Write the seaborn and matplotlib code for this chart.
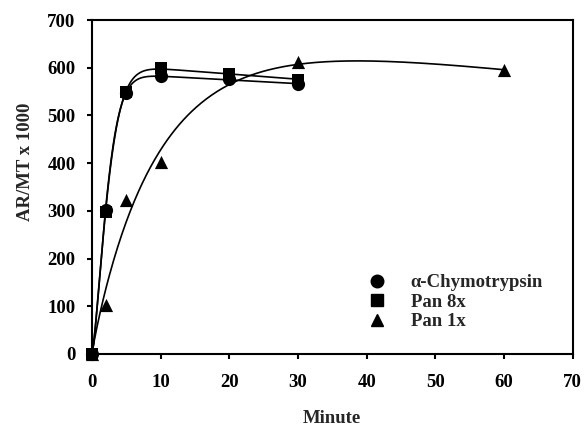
import numpy as np
import pandas as pd
import matplotlib
matplotlib.use("Agg")
import matplotlib.pyplot as plt
import seaborn as sns
from matplotlib.lines import Line2D

# ---- data ----
chymo_x = [0, 2, 5, 10, 20, 30]
chymo_y = [0, 302, 548, 582, 576, 566]
pan8_x = [0, 2, 5, 10, 20, 30]
pan8_y = [0, 298, 550, 600, 588, 575]
pan1_x = [0, 2, 5, 10, 30, 60]
pan1_y = [0, 103, 322, 403, 612, 595]
labels = ["\u03b1-Chymotrypsin", "Pan 8x", "Pan 1x"]
xticks = [0, 10, 20, 30, 40, 50, 60, 70]
yticks = [0, 100, 200, 300, 400, 500, 600, 700]

sns.set_style("ticks")
plt.rcParams['font.family'] = ['Liberation Serif', 'DejaVu Serif']
plt.rcParams['font.weight'] = 'bold'

FS = 13.5


def fit_curve(x, y):
    """Least-squares trend: a*(1-exp(-(x/t)^n)) + c*x, grid over t,n."""
    x = np.asarray(x, float)
    y = np.asarray(y, float)
    best = None
    for t in np.linspace(0.5, 30, 237):
        for n in np.linspace(0.8, 3.0, 45):
            B = np.column_stack([1 - np.exp(-(x / t) ** n), x])
            coef, *_ = np.linalg.lstsq(B, y, rcond=None)
            sse = np.sum((B @ coef - y) ** 2)
            if best is None or sse < best[0]:
                best = (sse, t, n, coef)
    _, t, n, coef = best
    xs = np.linspace(0, x.max(), 400)
    ys = coef[0] * (1 - np.exp(-(xs / t) ** n)) + coef[1] * xs
    return xs, ys


fig = plt.figure(figsize=(5.85, 4.28), dpi=100)
ax = fig.add_axes([0.157, 0.173, 0.822, 0.780])

series = [(chymo_x, chymo_y, "o", 9.5), (pan8_x, pan8_y, "s", 8.5), (pan1_x, pan1_y, "^", 9.5)]
handles = []
for (xs, ys, m, ms), lab in zip(series, labels):
    cx, cy = fit_curve(xs, ys)
    sns.lineplot(x=cx, y=cy, ax=ax, color="black", lw=1.2, sort=False, estimator=None)
    df = pd.DataFrame({"x": xs, "y": ys})
    sns.scatterplot(data=df, x="x", y="y", ax=ax, marker=m, s=ms ** 2, color="black",
                    edgecolor="black", linewidth=0, clip_on=False, zorder=5)
    handles.append(Line2D([], [], ls="none", marker=m, color="black", markersize=ms * 0.95))

ax.set_xlim(0, 70)
ax.set_ylim(0, 700)
ax.set_xticks(xticks)
ax.set_yticks(yticks)
for s in ax.spines.values():
    s.set_linewidth(1.5)
    s.set_color("black")
ax.tick_params(direction="out", length=3.8, width=1.5, labelsize=FS, colors="black")
ax.tick_params(axis="x", pad=10.5)
ax.tick_params(axis="y", pad=8)
for t in ax.get_xticklabels() + ax.get_yticklabels():
    t.set_fontweight("bold")
ax.set_xlabel("Minute", fontsize=FS, fontweight="bold")
ax.set_ylabel("AR/MT x 1000", fontsize=FS, fontweight="bold")
ax.xaxis.set_label_coords(0.5, -0.168)
ax.yaxis.set_label_coords(-0.12, 0.575)

leg = ax.legend(handles, labels, loc="center left", bbox_to_anchor=(0.558, 0.155),
                frameon=False, fontsize=FS, handlelength=1.0, handletextpad=1.3,
                labelspacing=0.12, borderaxespad=0)
for t in leg.get_texts():
    t.set_fontweight("bold")

fig.savefig("out.png", dpi=100)
